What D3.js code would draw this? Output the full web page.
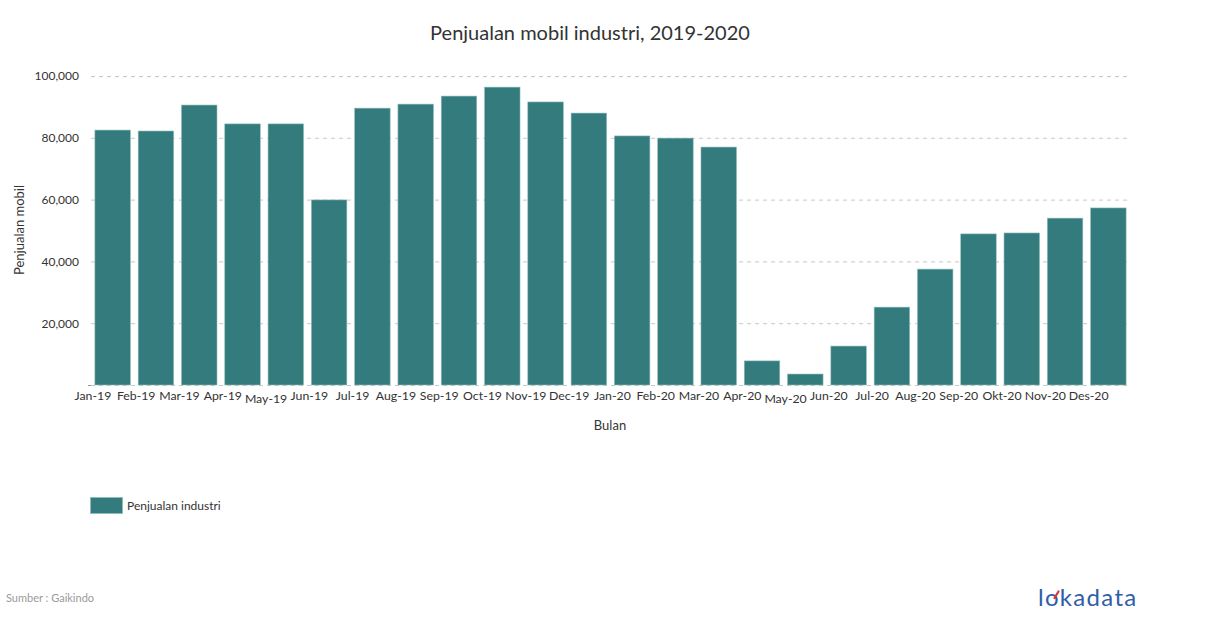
<!DOCTYPE html>
<html><head><meta charset="utf-8">
<script src="https://cdn.jsdelivr.net/npm/d3@7"></script>
<style>body{margin:0;background:#fff;} text{font-family:Lato, "Open Sans", sans-serif;}</style>
</head><body>
<svg id="c" width="1210" height="628"></svg>
<script>
const categories = ["Jan-19","Feb-19","Mar-19","Apr-19","May-19","Jun-19","Jul-19","Aug-19","Sep-19","Oct-19","Nov-19","Dec-19","Jan-20","Feb-20","Mar-20","Apr-20","May-20","Jun-20","Jul-20","Aug-20","Sep-20","Okt-20","Nov-20","Des-20"];
const sales = [82500,82200,90600,84500,84500,59900,89600,90900,93500,96400,91600,88000,80600,79900,77000,7800,3550,12600,25200,37500,48900,49200,54000,57300];
const yTicks = [0,20000,40000,60000,80000,100000];
const seriesName = "Penjualan industri";

const svg = d3.select("#c");
const m = {left:91, right:1130, top:76, bottom:385};
const color = "#337b7c";

const x = d3.scaleBand().domain(categories).range([m.left, m.right]).paddingInner(0.18).paddingOuter(0.09);
const y = d3.scaleLinear().domain([0,100000]).range([m.bottom, m.top]);

// title
svg.append("text").attr("x",590).attr("y",40).attr("text-anchor","middle")
  .attr("font-size",20).attr("fill","#333").text("Penjualan mobil industri, 2019-2020");

// grid
svg.append("g").selectAll("line").data(yTicks).join("line")
  .attr("x1",m.left).attr("x2",1127).attr("y1",d=>y(d)+0.5).attr("y2",d=>y(d)+0.5)
  .attr("stroke","#c8c8c8").attr("stroke-dasharray","4,4").attr("stroke-width",1);

// y axis labels
const yg = svg.append("g").attr("transform",`translate(${m.left-3},0)`)
  .call(d3.axisLeft(y).tickValues(yTicks.filter(d=>d>0)).tickFormat(d3.format(",")).tickSize(0).tickPadding(9));
yg.select(".domain").remove();
yg.selectAll("text").attr("font-size",12).attr("fill","#333").attr("font-family","Lato");
svg.append("line").attr("x1",m.left-3).attr("x2",m.left).attr("y1",y(0)+0.5).attr("y2",y(0)+0.5).attr("stroke","#999");

// bars
svg.append("g").selectAll("rect").data(sales).join("rect")
  .attr("x",(d,i)=>x(categories[i])).attr("width",x.bandwidth())
  .attr("y",d=>y(d)).attr("height",d=>y(0)-y(d))
  .attr("fill",color).attr("stroke","#8fbcbc").attr("stroke-width",0.6);

// x axis labels (centred on the left edge of each bar, as in the source)
const xg = svg.append("g").attr("transform",`translate(${-x.bandwidth()/2 - 2},${m.bottom})`)
  .call(d3.axisBottom(x).tickSize(0).tickPadding(6));
xg.select(".domain").remove();
xg.selectAll("text").attr("font-size",12.3).attr("fill","#333").attr("font-family","Lato")
  .attr("dy", d => (d.startsWith("May") ? "0.95em" : "0.71em"));

// axis titles
svg.append("text").attr("transform","translate(24,230) rotate(-90)").attr("text-anchor","middle")
  .attr("font-size",13).attr("fill","#333").text("Penjualan mobil");
svg.append("text").attr("x",610).attr("y",430).attr("text-anchor","middle")
  .attr("font-size",13).attr("fill","#333").text("Bulan");

// legend
svg.append("rect").attr("x",90.5).attr("y",497.5).attr("width",32).attr("height",16)
  .attr("fill",color).attr("stroke","#8fbcbc");
svg.append("text").attr("x",127).attr("y",510).attr("font-size",12).attr("fill","#333").text(seriesName);

// footer
svg.append("text").attr("x",6).attr("y",602).attr("font-size",11).attr("fill","#9a9a9a").text("Sumber : Gaikindo");
svg.append("text").attr("x",1038).attr("y",606).attr("font-size",24).attr("fill","#2f5ea8")
  .attr("font-family","'Open Sans', sans-serif").attr("letter-spacing","1.3").text("lokadata");
svg.append("line").attr("x1",1054.5).attr("y1",598).attr("x2",1058.5).attr("y2",591.5)
  .attr("stroke","#e03030").attr("stroke-width",2.2).attr("stroke-linecap","round");
</script>
</body></html>
